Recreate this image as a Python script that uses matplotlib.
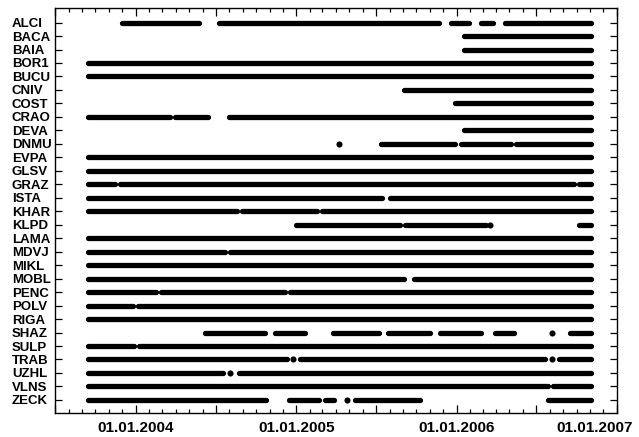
import matplotlib
matplotlib.use("Agg")
import matplotlib.pyplot as plt
import matplotlib.dates as mdates
import matplotlib.transforms as mtransforms
from matplotlib.ticker import FixedLocator, FuncFormatter
import datetime as dt

plt.rcParams['font.family'] = ['Liberation Sans', 'DejaVu Sans']

START = "2003-09-14"
END = "2006-11-02"

stations = ["ALCI", "BACA", "BAIA", "BOR1", "BUCU", "CNIV", "COST", "CRAO", "DEVA",
            "DNMU", "EVPA", "GLSV", "GRAZ", "ISTA", "KHAR", "KLPD", "LAMA", "MDVJ",
            "MIKL", "MOBL", "PENC", "POLV", "RIGA", "SHAZ", "SULP", "TRAB", "UZHL",
            "VLNS", "ZECK"]

# observation periods (start, end); start == end is a single day
ALCI = [("2003-11-30", "2004-05-24"), ("2004-07-08", "2005-11-22"), ("2005-12-19", "2006-01-29"),
        ("2006-02-26", "2006-03-25"), ("2006-04-21", END)]
BACA = [("2006-01-18", END)]
BAIA = [("2006-01-18", END)]
BOR1 = [(START, END)]
BUCU = [(START, END)]
CNIV = [("2005-09-02", END)]
COST = [("2005-12-29", END)]
CRAO = [(START, "2004-03-18"), ("2004-03-30", "2004-06-13"), ("2004-07-31", END)]
DEVA = [("2006-01-18", END)]
DNMU = [("2005-04-07", "2005-04-07"), ("2005-07-13", "2005-12-29"), ("2006-01-10", "2006-05-04"),
        ("2006-05-15", END)]
EVPA = [(START, END)]
GLSV = [(START, END)]
GRAZ = [(START, "2003-11-14"), ("2003-11-26", "2006-09-26"), ("2006-10-07", END)]
ISTA = [(START, "2005-07-15"), ("2005-08-02", END)]
KHAR = [(START, "2004-08-18"), ("2004-08-30", "2005-02-17"), ("2005-02-28", END)]
KLPD = [("2004-12-31", "2005-08-25"), ("2005-09-05", "2006-03-08"), ("2006-03-18", "2006-03-18"),
        ("2006-10-07", END)]
LAMA = [(START, END)]
MDVJ = [(START, "2004-07-22"), ("2004-08-02", END)]
MIKL = [(START, END)]
MOBL = [(START, "2005-09-02"), ("2005-09-25", END)]
PENC = [(START, "2004-02-15"), ("2004-02-27", "2004-12-06"), ("2004-12-17", END)]
POLV = [(START, "2003-12-25"), ("2004-01-05", END)]
RIGA = [(START, END)]
SHAZ = [("2004-06-06", "2004-10-21"), ("2004-11-13", "2005-01-20"), ("2005-03-25", "2005-07-08"),
        ("2005-07-29", "2005-11-01"), ("2005-11-24", "2006-02-26"), ("2006-03-29", "2006-05-12"),
        ("2006-08-05", "2006-08-05"), ("2006-09-16", END)]
SULP = [(START, "2003-12-29"), ("2004-01-09", END)]
TRAB = [(START, "2004-12-10"), ("2004-12-25", "2004-12-25"), ("2005-01-09", "2006-07-21"),
        ("2006-08-07", "2006-08-07"), ("2006-08-22", END)]
UZHL = [(START, "2004-07-17"), ("2004-08-03", "2004-08-03"), ("2004-08-23", END)]
VLNS = [(START, "2006-07-28"), ("2006-08-09", END)]
ZECK = [(START, "2004-10-23"), ("2004-12-15", "2005-02-22"), ("2005-03-08", "2005-03-27"),
        ("2005-04-27", "2005-04-27"), ("2005-05-14", "2005-10-09"), ("2006-07-28", END)]

periods = [ALCI, BACA, BAIA, BOR1, BUCU, CNIV, COST, CRAO, DEVA, DNMU, EVPA, GLSV, GRAZ,
           ISTA, KHAR, KLPD, LAMA, MDVJ, MIKL, MOBL, PENC, POLV, RIGA, SHAZ, SULP, TRAB,
           UZHL, VLNS, ZECK]

x_start = "2003-07-01"
x_end = "2007-01-01"


def d(s):
    return dt.datetime.strptime(s, "%Y-%m-%d")


fig = plt.figure(figsize=(6.39, 4.37), dpi=100)
ax = fig.add_axes([55 / 639, 24 / 437, 562 / 639, 405 / 437])

for i, segs in enumerate(periods):
    for a, b in segs:
        if a == b:
            ax.plot([d(a)], [i], marker='o', ms=4.4, color='black', mew=0)
        else:
            ax.plot([d(a), d(b)], [i, i], color='black', lw=3.8,
                    solid_capstyle='round')

ax.set_xlim(d(x_start), d(x_end))
ax.set_ylim(len(stations) - 0.03, -1.08)

ax.set_yticks(range(len(stations)))
ax.set_yticklabels(stations, fontsize=9.5, fontweight='bold', ha='left')

major = [d(f"{y}-{m:02d}-01") for y in range(2003, 2008) for m in (1, 7)
         if d(x_start) <= d(f"{y}-{m:02d}-01") <= d(x_end)]
ax.xaxis.set_major_locator(FixedLocator(mdates.date2num(major)))
ax.xaxis.set_minor_locator(mdates.MonthLocator())


def fmt(x, pos):
    t = mdates.num2date(x)
    return t.strftime("%d.%m.%Y") if t.month == 1 else ""


ax.xaxis.set_major_formatter(FuncFormatter(fmt))

ax.tick_params(axis='x', which='major', direction='in', length=6, width=0.9,
               top=True, bottom=True, pad=6, labelsize=11)
ax.tick_params(axis='x', which='minor', direction='in', length=2.6, width=0.9,
               top=True, bottom=True)
ax.tick_params(axis='y', which='major', direction='in', length=5, width=0.9,
               left=True, right=True, pad=31)
for lab in ax.get_xticklabels():
    lab.set_fontweight('bold')
for sp in ax.spines.values():
    sp.set_linewidth(1.0)

fig.canvas.draw()
for lab in ax.get_xticklabels():
    if lab.get_text().endswith("2007"):
        lab.set_transform(lab.get_transform() +
                          mtransforms.ScaledTranslation(-22 / 100, 0, fig.dpi_scale_trans))

fig.savefig("out.png", dpi=100)
